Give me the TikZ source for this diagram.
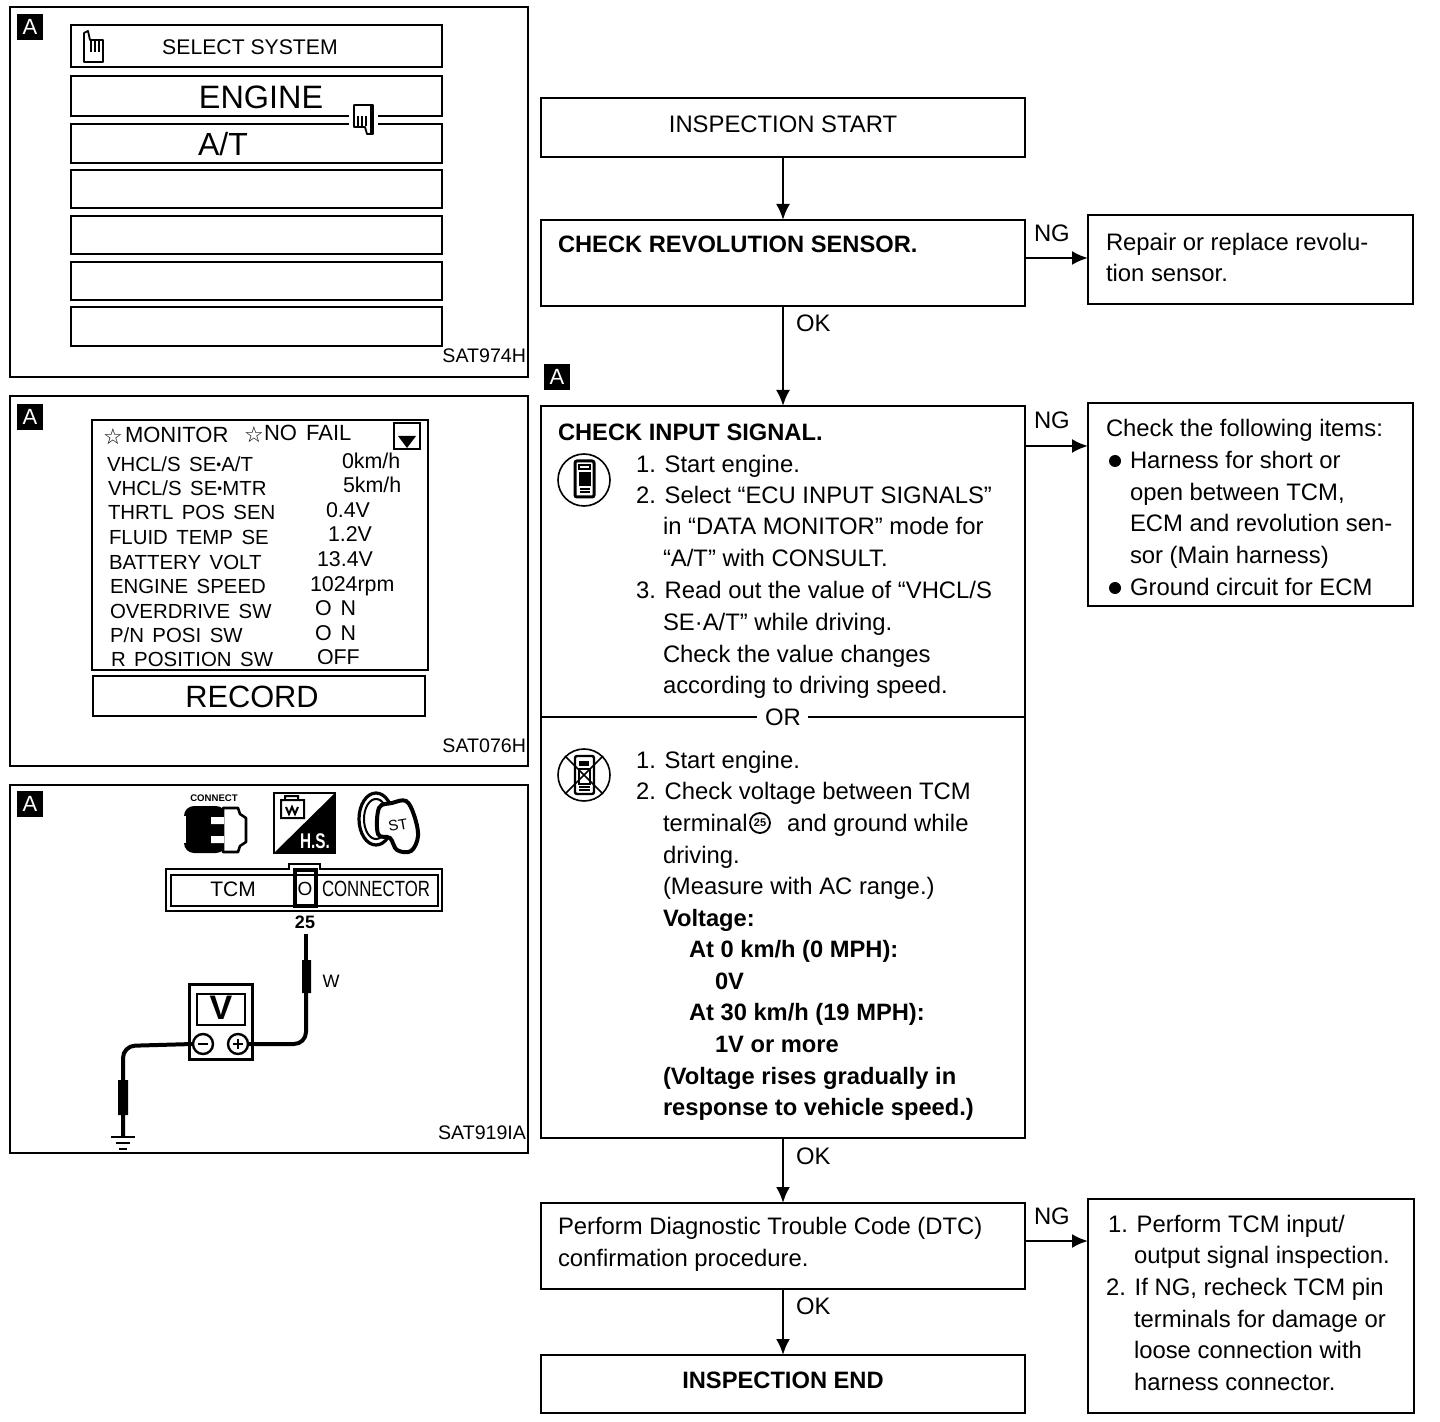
\documentclass[tikz,border=0pt]{standalone}
\usepackage{fontspec}
\setmainfont{Liberation Sans}
\newfontfamily\dejavu{DejaVu Sans}
\newfontfamily\monf[WordSpace=1.5]{Liberation Sans}
\usetikzlibrary{arrows.meta}
\newcounter{tn}
\tikzset{
  fl/.style={draw=black,line width=1pt,inner sep=0pt,outer sep=0pt,fill=white},
  txt/.style={inner sep=0pt,outer sep=0pt,anchor=base west,text=black,font=\fontsize{11.92}{14}\selectfont},
  btxt/.style={txt,font=\fontsize{11.85}{14}\selectfont\bfseries},
  ctr/.style={anchor=center},
  mon/.style={txt,font=\monf\fontsize{10.2}{13}\selectfont},
  val/.style={txt,font=\monf\fontsize{10.7}{13}\selectfont},
  small/.style={txt,font=\fontsize{9.8}{11}\selectfont},
  conn/.style={line width=1.2pt,-{Latex[length=8pt,width=7pt]}},
  scr/.style={draw=black,line width=1.3pt,fill=white},
  wire/.style={line width=2pt,rounded corners=6pt},
  lab/.style={inner sep=0pt,fill=black,text=white,font=\fontsize{11}{11}\selectfont,minimum size=13pt}
}
% box: name x1 y1 x2 y2
\newcommand\bx[5]{\node[fl,minimum width={(#4-#2)*0.5pt},minimum height={(#5-#3)*0.5pt}] (#1) at ({(#2+#4)/2},{(#3+#5)/2}) {};}
\newcommand\scrn[5]{\node[scr,inner sep=0pt,outer sep=0pt,minimum width={(#4-#2)*0.5pt},minimum height={(#5-#3)*0.5pt}] (#1) at ({(#2+#4)/2},{(#3+#5)/2}) {};}
\newcommand\T[4][txt]{\stepcounter{tn}\node[#1] (t\arabic{tn}) at (#2,#3) {#4};}
\newcommand\B[3]{\T[btxt]{#1}{#2}{#3}}
\newcommand\M[3]{\T[mon]{#1}{#2}{#3}}
\newcommand\Vv[3]{\T[val]{#1}{#2}{#3}}
\begin{document}
\begin{tikzpicture}[x=0.5pt,y=-0.5pt]
\useasboundingbox (0,0) rectangle (1440,1422);
\fill[white] (0,0) rectangle (1440,1422);
% ---- panels
\scrn{p1}{10}{7}{528}{377}
\scrn{p2}{10}{396}{528}{766}
\scrn{p3}{10}{785}{528}{1153}
\node[lab] (la1) at (30,27) {A};
\node[lab] (la2) at (30,417) {A};
\node[lab] (la3) at (30,804) {A};
% panel 1
\scrn{s1}{71}{25}{442}{67}
\scrn{s2}{71}{76}{442}{116}
\scrn{s3}{71}{124}{442}{163}
\scrn{s4}{71}{170}{442}{208}
\scrn{s5}{71}{216}{442}{254}
\scrn{s6}{71}{262}{442}{300}
\scrn{s7}{71}{307}{442}{346}
\T[txt,ctr]{250}{47}{\fontsize{10.6}{13}\selectfont SELECT SYSTEM}
\T[txt,ctr]{261}{97}{\fontsize{16.2}{20}\selectfont ENGINE}
\T[txt,ctr]{223}{144}{\fontsize{16}{20}\selectfont A/T}
\T[small,anchor=base east]{526}{363}{SAT974H}
% hand up
\draw[line width=.9pt,fill=white,line join=round] (84,62) -- (84,33) -- (88,31) -- (90,40) -- (103,40) -- (103,62) -- cycle;
\draw[line width=.9pt] (91,41) -- (91,52) (95,41) -- (95,52) (99,41) -- (99,52);
% hand down
\fill[white] (349,108) rectangle (378,130);
\draw[line width=.9pt,fill=white,line join=round] (354,105) -- (373,105) -- (373,134) -- (367,134) -- (365,127) -- (354,127) -- cycle;
\draw[line width=.9pt] (358,116) -- (358,126) (362,116) -- (362,126) (366,116) -- (366,126);
\draw[line width=2pt] (372,105) -- (372,134);
% panel 2
\scrn{mo}{92}{420}{428}{670}
\scrn{re}{93}{676}{425}{716}
\T[txt,ctr]{252}{697}{\fontsize{15.4}{20}\selectfont RECORD}
\T[mon]{125}{443}{\fontsize{11}{13}\selectfont MONITOR}
\T[mon]{264}{441}{\fontsize{11}{13}\selectfont NO FAIL}
\T[txt,ctr]{113}{437}{\dejavu\fontsize{11}{12}\selectfont ☆}
\T[txt,ctr]{254}{435}{\dejavu\fontsize{11}{12}\selectfont ☆}
\scrn{dn}{394}{423}{420}{449}
\fill (398,436) -- (416,436) -- (407,448) -- cycle;
\M{107}{472}{VHCL/S SE\raisebox{.2ex}{\scriptsize•}A/T}
\M{108}{496}{VHCL/S SE\raisebox{.2ex}{\scriptsize•}MTR}
\M{108}{520}{THRTL POS SEN}
\M{109}{545}{FLUID TEMP SE}
\M{109}{570}{BATTERY VOLT}
\M{110}{594}{ENGINE SPEED}
\M{110}{618}{OVERDRIVE SW}
\M{110}{642}{P/N POSI SW}
\M{111}{667}{R POSITION SW}
\Vv{342}{469}{0km/h}
\Vv{343}{493}{5km/h}
\Vv{326}{518}{0.4V}
\Vv{328}{542}{1.2V}
\Vv{317}{567}{13.4V}
\Vv{310}{591}{1024rpm}
\Vv{315}{616}{O N}
\Vv{315}{640}{O N}
\Vv{317}{664}{OFF}
\T[small,anchor=base east]{526}{752}{SAT076H}
% panel 3
\T[txt,ctr]{214}{798}{\fontsize{4.8}{5}\selectfont\bfseries CONNECT}
\fill[rounded corners=5pt] (184,806) rectangle (226,853);
\draw[line width=1.3pt,fill=white,line join=round] (223,808) -- (238,808) -- (240,814) -- (246,818) -- (246,842) -- (240,846) -- (238,852) -- (223,852) -- cycle;
\fill[white] (211,817) rectangle (224,824) (211,836) rectangle (224,843);
\fill[white] (183.5,816) rectangle (185.5,843);
\draw[line width=1.2pt,fill=white] (274,793) rectangle (335,853);
\fill (274,853) -- (335,793) -- (335,853) -- cycle;
\draw[line width=1pt] (281,800) rectangle (304,818) (285,800) -- (285,796) -- (298,796) -- (298,800) (286,807) -- (289,814) -- (292,807) -- (295,814) -- (298,807);
\T[txt,ctr,text=white]{315}{841}{\scalebox{.9}[1.25]{\fontsize{8.5}{9}\selectfont\bfseries H.S.}}
\draw[line width=1.6pt] (376,819) ellipse [x radius=17,y radius=26];
\draw[line width=1pt] (376,819) ellipse [x radius=12,y radius=20];
\draw[line width=2pt,fill=white] plot[smooth cycle,tension=.6] coordinates {(379,808) (392,803) (406,801) (414,815) (418,836) (411,851) (397,850) (390,838) (378,834)};
\T[txt,ctr]{398}{825}{\rotatebox{10}{\fontsize{7.5}{8}\selectfont ST}}
\draw[line width=1.3pt,fill=white] (166,869) -- (289,869) -- (289,864) -- (320,864) -- (320,869) -- (442,869) -- (442,911) -- (166,911) -- cycle;
\draw[line width=1.2pt] (171,875) rectangle (438,906);
\draw[line width=2pt] (295,870) rectangle (316,906);
\T[txt,ctr]{233}{889}{\fontsize{10.5}{12}\selectfont TCM}
\T[txt,ctr]{305}{889}{\fontsize{9.5}{12}\selectfont O}
\T[txt,ctr]{376}{889}{\scalebox{.8}[1.05]{\fontsize{10.5}{12}\selectfont CONNECTOR}}
\T[txt,ctr]{305}{922}{\fontsize{9}{10}\selectfont\bfseries 25}
\T[txt,ctr]{331}{981}{\fontsize{9}{10}\selectfont W}
\coordinate (wtop) at (306,934);
\coordinate (wsl) at (306,965);
\node[draw=black,line width=1.5pt,fill=white,inner sep=0pt,outer sep=0pt,minimum width=31.5pt,minimum height=37.5pt] (vm) at (220.5,1021.5) {};
\draw[line width=1.3pt] (197,994) rectangle (245,1025);
\T[txt,ctr]{221}{1008}{\fontsize{17}{18}\selectfont\bfseries V}
\node[draw=black,line width=1.2pt,circle,minimum size=10pt,inner sep=0pt,outer sep=0pt] (neg) at (203,1044) {};
\node[draw=black,line width=1.2pt,circle,minimum size=10pt,inner sep=0pt,outer sep=0pt] (pos) at (238,1044) {};
\draw[line width=1.2pt] (198,1044) -- (208,1044) (233,1044) -- (243,1044) (238,1039) -- (238,1049);
\coordinate (gnd) at (123,1136);
\draw[line width=2pt] (wtop) -- (wsl);
\draw[wire] (wsl) -- (306,1044) -- (pos.east);
\draw[wire] (neg.west) -- (123,1046) -- (gnd);
\fill (302,960) rectangle (311,993) (118,1080) rectangle (128,1115);
\draw[line width=1.2pt] (111,1137) -- (135,1137) (116,1143) -- (130,1143) (119,1149) -- (127,1149);
\T[small,anchor=base east]{526}{1139}{SAT919IA}
% ---- flow chart
\bx{start}{541}{98}{1025}{157}
\bx{c2}{541}{220}{1025}{306}
\bx{r1}{1088}{215}{1413}{304}
\bx{c3}{541}{406}{1025}{1138}
\bx{r2}{1088}{403}{1413}{606}
\bx{c4}{541}{1203}{1025}{1289}
\bx{r3}{1088}{1199}{1414}{1413}
\bx{endb}{541}{1355}{1025}{1413}
\coordinate (o2) at (1025,258);
\coordinate (i1) at (1088,258);
\coordinate (o3) at (1025,446);
\coordinate (i2) at (1088,446);
\coordinate (o4) at (1025,1241);
\coordinate (i3) at (1088,1241);
\draw[conn] (start) -- (c2);
\draw[conn] (c2) -- (c3);
\draw[conn] (c3) -- (c4);
\draw[conn] (c4) -- (endb);
\draw[conn] (o2) -- (i1);
\draw[conn] (o3) -- (i2);
\draw[conn] (o4) -- (i3);
\draw[line width=1pt] (541,717) -- (757,717) (808,717) -- (1025,717);
\T[txt,ctr]{783}{717}{OR}
\node[lab] (la4) at (557,377) {A};
\T[txt,ctr]{783}{124}{INSPECTION START}
\B{558}{253}{CHECK REVOLUTION SENSOR.}
\T{1034}{242}{NG}\T{796}{332}{OK}
\T{1106}{251}{Repair or replace revolu-}
\T{1106}{282}{tion sensor.}
\B{558}{441}{CHECK INPUT SIGNAL.}
\T{636}{473}{1. Start engine.}
\T{636}{504}{2. Select “ECU INPUT SIGNALS”}
\T{663}{535}{in “DATA MONITOR” mode for}
\T{663}{567}{“A/T” with CONSULT.}
\T{636}{598}{3. Read out the value of “VHCL/S}
\T{663}{631}{SE·A/T” while driving.}
\T{663}{662}{Check the value changes}
\T{663}{693}{according to driving speed.}
\T{636}{768}{1. Start engine.}
\T{636}{799}{2. Check voltage between TCM}
\T{663}{831}{terminal}
\T{787}{831}{and ground while}
\node[draw=black,line width=.9pt,circle,minimum size=10pt,inner sep=0pt,font=\fontsize{5.5}{6}\selectfont\bfseries] (c25) at (760,823) {25};
\T{663}{863}{driving.}
\T{663}{894}{(Measure with AC range.)}
\B{663}{926}{Voltage:}
\B{689}{957}{At 0 km/h (0 MPH):}
\B{715}{989}{0V}
\B{689}{1020}{At 30 km/h (19 MPH):}
\B{715}{1052}{1V or more}
\B{663}{1084}{(Voltage rises gradually in}
\B{663}{1115}{response to vehicle speed.)}
\T{1034}{429}{NG}
\T{1106}{437}{Check the following items:}
\fill (1115,461) circle (6);
\T{1130}{469}{Harness for short or}
\T{1130}{501}{open between TCM,}
\T{1130}{532}{ECM and revolution sen-}
\T{1130}{564}{sor (Main harness)}
\fill (1115,588) circle (6);
\T{1130}{596}{Ground circuit for ECM}
% meter icons
\node[draw=black,line width=.8pt,circle,minimum size=26pt,inner sep=0pt] (ico1) at (584,480) {};
\draw[line width=1.5pt,fill=white,rounded corners=1pt] (575,461) rectangle (594,497);
\fill (579,472) rectangle (591,486);
\draw[line width=.8pt] (579,465) rectangle (590,469) (580,489) -- (590,489) (580,492) -- (590,492);
\node[draw=black,line width=.8pt,circle,minimum size=26pt,inner sep=0pt] (ico2) at (584,775) {};
\draw[line width=1.2pt,fill=white,rounded corners=1pt] (575,756) rectangle (594,794);
\fill (579,761) rectangle (589,766);
\draw[line width=.8pt] (579,769) rectangle (590,784) (579,787) -- (590,787) (579,790) -- (590,790);
\draw[line width=.8pt] (ico2.135) -- (ico2.-45) (ico2.45) -- (ico2.-135);
\T{796}{1164}{OK}
\T{558}{1234}{Perform Diagnostic Trouble Code (DTC)}
\T{558}{1266}{confirmation procedure.}
\T{1034}{1224}{NG}
\T{796}{1314}{OK}
\T{1108}{1232}{1. Perform TCM input/}
\T{1134}{1263}{output signal inspection.}
\T{1106}{1295}{2. If NG, recheck TCM pin}
\T{1134}{1327}{terminals for damage or}
\T{1134}{1358}{loose connection with}
\T{1134}{1390}{harness connector.}
\T[btxt,ctr]{783}{1380}{INSPECTION END}
\end{tikzpicture}
\end{document}
